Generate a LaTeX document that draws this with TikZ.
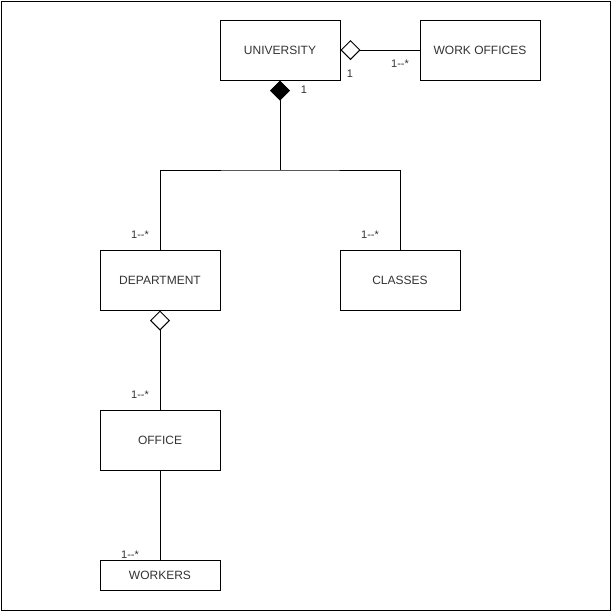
\documentclass[tikz,border=0pt]{standalone}
\usepackage{fontspec}
\setmainfont{Liberation Sans}
\usetikzlibrary{arrows.meta}
\definecolor{txt}{RGB}{51,51,51}
\begin{document}
\begin{tikzpicture}[x=1pt,y=-1pt,
  cls/.style={draw=black,line width=1pt,minimum width=120pt,minimum height=60pt,inner sep=0pt,font=\fontsize{12}{14}\selectfont,text=txt},
  small/.style={cls,minimum height=30pt},
  lbl/.style={font=\fontsize{11}{13}\selectfont,text=txt,inner sep=0pt},
  conn/.style={draw=black,line width=1pt},
  agg/.style={conn,-{Diamond[open,length=20pt,width=20pt,line width=1pt]}},
  comp/.style={conn,-{Diamond[length=20pt,width=20pt]}}]
\useasboundingbox (0,0) rectangle (611,611);
\draw[line width=1pt] (1,1) rectangle (610,610);
\node[cls] (u) at (280,50) {UNIVERSITY};
\node[cls] (wo) at (480,50) {WORK OFFICES};
\node[cls] (dep) at (160,280) {DEPARTMENT};
\node[cls] (cl) at (400,280) {CLASSES};
\node[cls] (off) at (160,440) {OFFICE};
\node[small] (wk) at (160,575) {WORKERS};
\coordinate (j) at (280,170);
\draw[agg] (wo.west) -- (u.east);
\draw[conn] (dep.north) |- (j) -| (cl.north);
\draw[comp] (j) -- (u.south);
\draw[agg] (off.north) -- (dep.south);
\draw[conn] (off.south) -- (wk.north);
\node[lbl] (l1) at (350,74) {1};
\node[lbl] (l2) at (400,64) {1-{}-*};
\node[lbl] (l3) at (304,90) {1};
\node[lbl] (l4) at (140,235) {1-{}-*};
\node[lbl] (l5) at (370,235) {1-{}-*};
\node[lbl] (l6) at (140,395) {1-{}-*};
\node[lbl] (l7) at (130,555) {1-{}-*};
\end{tikzpicture}
\end{document}
